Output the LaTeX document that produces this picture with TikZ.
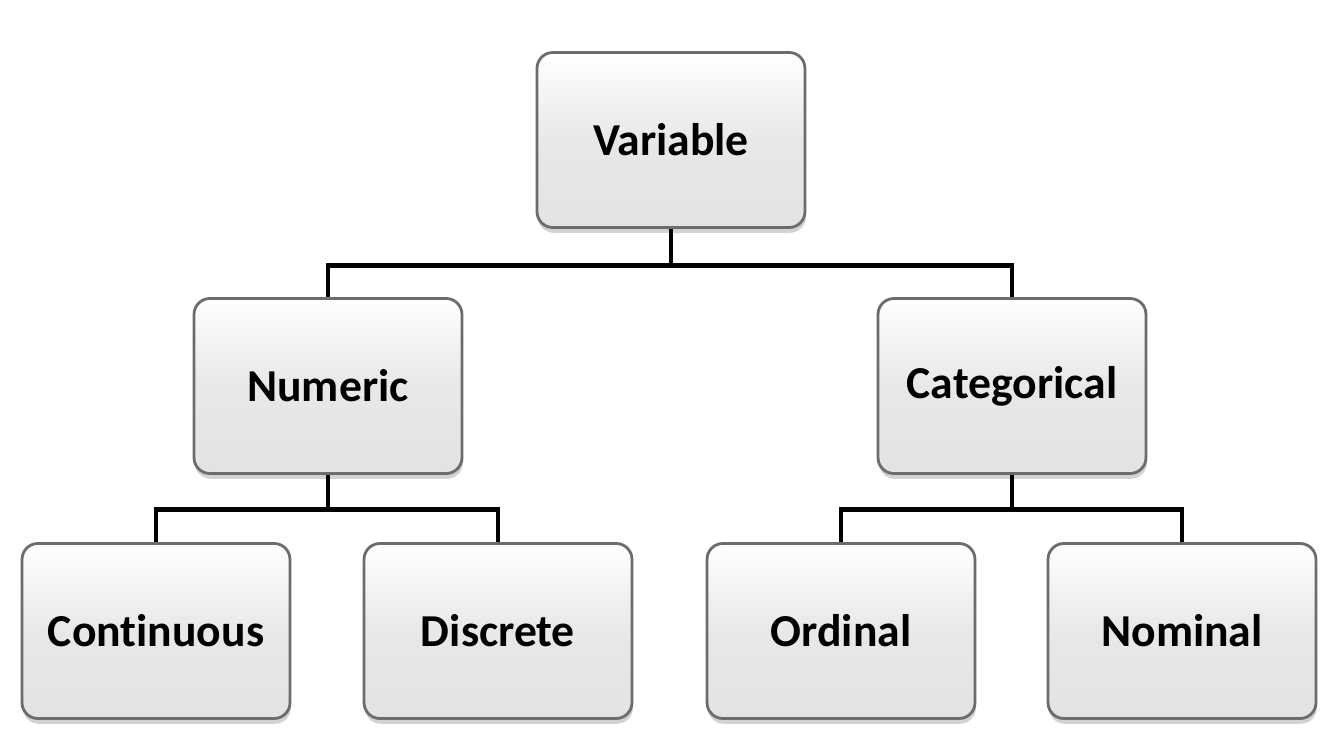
\documentclass[tikz,border=0pt]{standalone}
\usepackage{fontspec}
\setmainfont[Ligatures=NoCommon]{Carlito}
\usetikzlibrary{shadows}
\tikzset{
  box/.style={draw=gray!85!black, line width=1.6pt, rounded corners=9pt,
    top color=white, bottom color=gray!22, middle color=gray!18,
    minimum width=5.36cm, minimum height=3.5cm,
    drop shadow={shadow xshift=0.5pt, shadow yshift=-3pt, opacity=0.35},
    font=\fontsize{26}{30}\selectfont\bfseries},
  link/.style={line width=2.8pt, black}
}
\begin{document}
\begin{tikzpicture}[x=0.02cm, y=-0.02cm]
    \useasboundingbox[fill=white] (0,0) rectangle (1329,753);
    \node[box] (var) at (671,140) {Variable};
    \node[box] (num) at (328,386) {Numeric};
    \node[box] (cat) at (1012,386) {Categorical};
    \node[box] (cont) at (156,631) {Continuous};
    \node[box] (disc) at (498,631) {Discrete};
    \node[box] (ord) at (841,631) {Ordinal};
    \node[box] (nom) at (1182,631) {Nominal};
    \draw[link] (var.south) -- ++(0,37) -| (num.north);
    \draw[link] (var.south) -- ++(0,37) -| (cat.north);
    \draw[link] (num.south) -- ++(0,35) -| (cont.north);
    \draw[link] (num.south) -- ++(0,35) -| (disc.north);
    \draw[link] (cat.south) -- ++(0,35) -| (ord.north);
    \draw[link] (cat.south) -- ++(0,35) -| (nom.north);
\end{tikzpicture}
\end{document}
